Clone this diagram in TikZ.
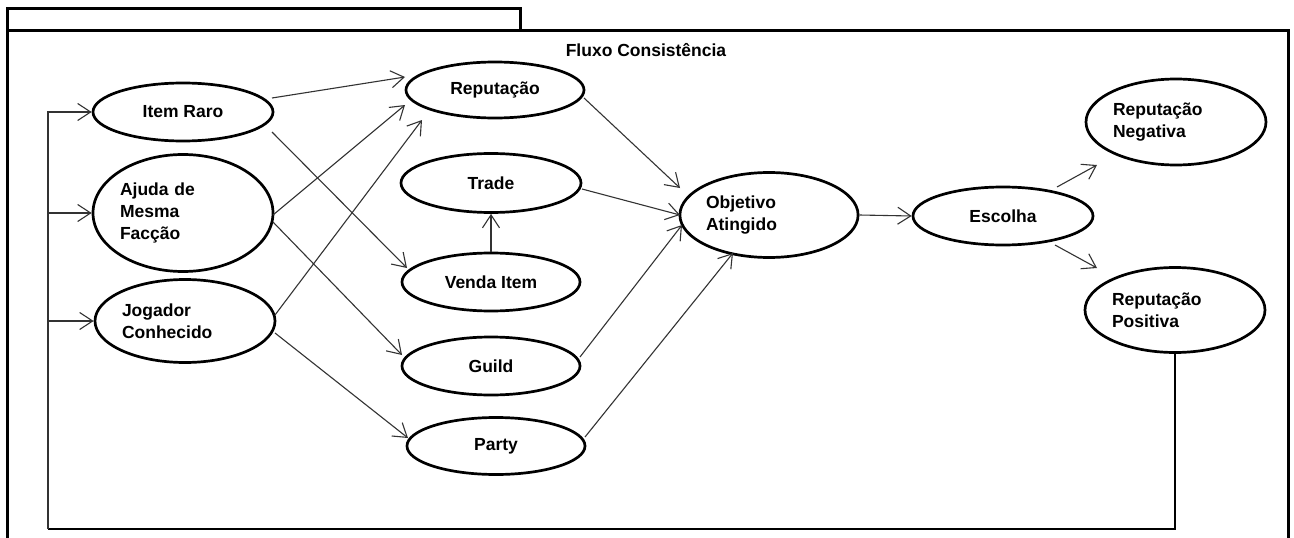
\documentclass[tikz,border=0pt]{standalone}
\usepackage{fontspec}
\setmainfont{Liberation Sans}
\usetikzlibrary{arrows.meta,shapes.geometric,calc}
\begin{document}
\begin{tikzpicture}[x=1pt,y=-1pt,
  uc/.style={ellipse, draw, line width=2.7pt, inner sep=0pt,
    font=\bfseries\fontsize{17.5}{22}\selectfont},
  ml/.style={uc, text width=126pt, align=left},
  arr/.style={-{Straight Barb[length=13pt,width=17pt]}, line width=1.1pt, draw=black!80},
  back/.style={line width=2.8pt},
  frame/.style={line width=3pt}]
% canvas
\fill[white] (0,0) rectangle (1294,538);
\useasboundingbox (0,0) rectangle (1294,538);

% boundary frame with its tab
\draw[frame] (7,545) -- (7,8) -- (520,8) -- (520,30);
\draw[frame] (7,30) -- (1288,30) -- (1288,545);
\node[font=\bfseries\fontsize{17.5}{22}\selectfont] (title) at (646,50) {Fluxo Consistência};

% use cases
\node[uc, minimum width=180pt, minimum height=58pt]  (ir)  at (183,112) {Item Raro};
\node[ml, minimum width=180pt, minimum height=117pt] (aj)  at (183,213) {Ajuda de\\Mesma\\Facção};
\node[ml, minimum width=180pt, minimum height=83pt]  (jog) at (185,321) {Jogador\\Conhecido};

\node[uc, minimum width=178pt, minimum height=56pt] (rep) at (495,90)  {Reputação};
\node[uc, minimum width=180pt, minimum height=59pt] (tra) at (491,183) {Trade};
\node[uc, minimum width=178pt, minimum height=58pt] (ven) at (491,282) {Venda Item};
\node[uc, minimum width=178pt, minimum height=58pt] (gui) at (491,366) {Guild};
\node[uc, minimum width=178pt, minimum height=57pt] (par) at (496,446) {Party};

\node[ml, minimum width=178pt, minimum height=85pt] (obj) at (769,215) {Objetivo\\Atingido};
\node[uc, minimum width=180pt, minimum height=58pt] (esc) at (1003,216) {Escolha};
\node[ml, minimum width=180pt, minimum height=86pt] (neg) at (1176,122) {Reputação\\Negativa};
\node[ml, minimum width=180pt, minimum height=85pt] (pos) at (1175,310) {Reputação\\Positiva};

% flows from the starting cases
\draw[arr] ($(ir)+(89,-14)$)  -- ($(rep)+(-90,-13)$);
\draw[arr] ($(ir)+(89,20)$)   -- ($(ven)+(-84,-14)$);
\draw[arr] ($(aj)+(90,2)$)    -- ($(rep)+(-90,15)$);
\draw[arr] ($(aj)+(90,9)$)    -- ($(gui)+(-89,-11)$);
\draw[arr] ($(jog)+(90,-6)$)  -- ($(rep)+(-73,30)$);
\draw[arr] ($(jog)+(90,12)$)  -- ($(par)+(-88,-8)$);

% flows into the goal
\draw[arr] ($(rep)+(89,8)$)   -- ($(obj)+(-89,-27)$);
\draw[arr] ($(tra)+(91,6)$)   -- ($(obj)+(-89,0)$);
\draw[arr] (ven.north) -- (tra.south);
\draw[arr] ($(gui)+(89,-9)$)  -- ($(obj)+(-87,10)$);
\draw[arr] ($(par)+(89,-9)$)  -- ($(obj)+(-36,38)$);

% choice
\draw[arr] (obj.east) -- (esc.west);
\draw[arr] ($(esc)+(54,-29)$) -- ($(neg)+(-79,43)$);
\draw[arr] ($(esc)+(52,29)$)  -- ($(pos)+(-78,-42)$);

% feedback back to the starting cases
\coordinate (lp) at (48,529);
\draw[back] (pos.south) |- (lp);
\draw[arr] (lp) |- (ir.west);
\draw[arr] (lp |- aj.west) -- (aj.west);
\draw[arr] (lp |- jog.west) -- (jog.west);
\end{tikzpicture}
\end{document}
